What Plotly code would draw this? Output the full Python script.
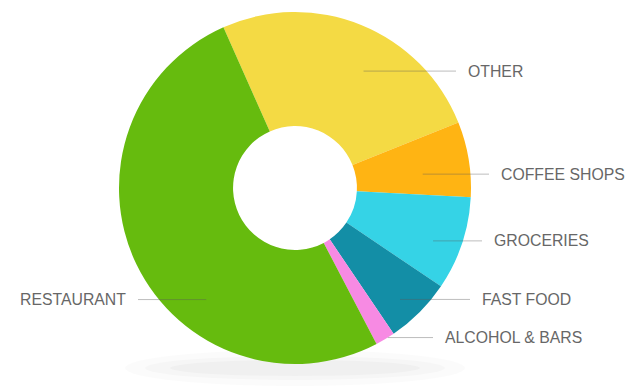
import math
import plotly.graph_objects as go

# ---- data ----
categories = ["OTHER", "COFFEE SHOPS", "GROCERIES", "FAST FOOD", "ALCOHOL & BARS", "RESTAURANT"]
values = [25.6, 6.9, 8.6, 6.1, 1.8, 51.0]
colors = ["#f4da44", "#ffb413", "#35d3e6", "#138ea6", "#f78ae3", "#66bb0e"]

# ---- layout constants (pixels) ----
W, H = 629, 386
CX, CY, R = 295, 188, 176
HOLE = 0.352
ROTATION = -24  # start angle of the first slice, clockwise from 12 o'clock

# label placement: (fraction along slice, radius fraction, label x, side)
label_layout = {
    "OTHER":          (0.59, 0.77, 466, "right"),
    "COFFEE SHOPS":   (0.63, 0.73, 499, "right"),
    "GROCERIES":      (0.58, 0.84, 492, "right"),
    "FAST FOOD":      (0.58, 0.87, 480, "right"),
    "ALCOHOL & BARS": (0.35, 1.00, 443, "right"),
    "RESTAURANT":     (0.36, 0.81, 128, "left"),
}

def px_x(x):
    return x / W

def px_y(y):
    return 1 - y / H

fig = go.Figure()
fig.add_trace(go.Pie(
    labels=categories,
    values=values,
    hole=HOLE,
    sort=False,
    direction="clockwise",
    rotation=ROTATION,
    marker=dict(colors=colors, line=dict(width=0)),
    textinfo="none",
    hoverinfo="label+percent",
    showlegend=False,
    domain=dict(x=[px_x(CX - R), px_x(CX + R)], y=[px_y(CY + R), px_y(CY - R)]),
))

shapes = []
# very soft shadow under the donut
for rx, ry, a in [(170, 18, 0.015), (150, 12, 0.02), (125, 8, 0.025)]:
    shapes.append(dict(type="circle", xref="paper", yref="paper", layer="below",
                       x0=px_x(CX - rx), x1=px_x(CX + rx),
                       y0=px_y(CY + R + 4 + ry), y1=px_y(CY + R + 4 - ry),
                       fillcolor=f"rgba(0,0,0,{a})", line=dict(width=0)))

annotations = []
total = sum(values)
start = ROTATION
for cat, v in zip(categories, values):
    span = v / total * 360
    frac, rfrac, lx, side = label_layout[cat]
    ang = math.radians(start + frac * span)
    ax = CX + rfrac * R * math.sin(ang)
    ay = CY - rfrac * R * math.cos(ang)
    if side == "right":
        x0, x1 = ax, lx - 10
        xanchor = "left"
    else:
        x0, x1 = lx + 10, ax
        xanchor = "right"
    shapes.append(dict(type="line", xref="paper", yref="paper", layer="above",
                       x0=px_x(x0), x1=px_x(x1), y0=px_y(ay), y1=px_y(ay),
                       line=dict(color="rgba(90,90,90,0.4)", width=1)))
    annotations.append(dict(text=cat, xref="paper", yref="paper",
                            x=px_x(lx), y=px_y(ay), xanchor=xanchor, yanchor="middle",
                            showarrow=False,
                            font=dict(family="Liberation Sans, Arial, sans-serif",
                                      size=15.8, color="#676767")))
    start += span

fig.update_layout(
    width=W, height=H,
    margin=dict(l=0, r=0, t=0, b=0),
    paper_bgcolor="white",
    plot_bgcolor="white",
    shapes=shapes,
    annotations=annotations,
)

fig.write_html("out.html")
